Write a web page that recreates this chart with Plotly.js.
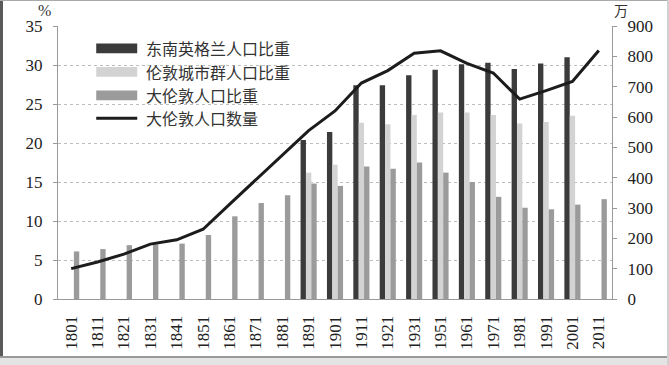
<!DOCTYPE html>
<html>
<head>
<meta charset="utf-8">
<script src="https://cdn.plot.ly/plotly-3.0.1.min.js"></script>
<style>
html,body{margin:0;padding:0;background:#fff;}
#wrap{position:relative;width:669px;height:365px;overflow:hidden;}
#chart{position:absolute;left:0;top:0;width:669px;height:365px;}
.b{position:absolute;pointer-events:none;}
</style>
</head>
<body>
<div id="wrap">
<div id="chart"></div>
<div class="b" style="left:0;top:0;width:3px;height:365px;background:#5a5a5a;"></div>
<div class="b" style="left:0;top:0;width:669px;height:1px;background:#aaa;"></div>
<div class="b" style="left:0;top:356px;width:669px;height:2px;background:#9a9a9a;"></div>
<div class="b" style="left:0;top:358px;width:669px;height:7px;background:#e4e4e4;"></div>
<div class="b" style="left:667px;top:0;width:2px;height:365px;background:#d0d0d0;"></div>
</div>
<script>
// Census years (category labels)
var years = ['1801','1811','1821','1831','1841','1851','1861','1871','1881','1891','1901','1911','1921','1931','1951','1961','1971','1981','1991','2001','2011'];
// 东南英格兰人口比重 (%)
var seShare = [null,null,null,null,null,null,null,null,null,20.4,21.4,27.4,27.4,28.7,29.4,30.1,30.3,29.5,30.2,31.0,null];
// 伦敦城市群人口比重 (%)
var cityRegionShare = [null,null,null,null,null,null,null,null,null,16.2,17.2,22.6,22.4,23.6,23.9,23.9,23.6,22.5,22.7,23.5,null];
// 大伦敦人口比重 (%)
var londonShare = [6.1,6.4,6.9,7.0,7.1,8.2,10.6,12.3,13.3,14.8,14.5,17.0,16.7,17.5,16.2,15.0,13.1,11.7,11.5,12.1,12.8];
// 大伦敦人口数量 (万)
var londonPop = [100,122,148,181,195,230,312,394,476,555,620,712,753,810,818,777,745,659,687,717,819];

var names = ['东南英格兰人口比重','伦敦城市群人口比重','大伦敦人口比重','大伦敦人口数量'];
var colors = ['#3b3b3b','#d3d3d3','#9b9b9b','#1c1c1c'];

var serif = 'Liberation Serif';
var cjk = 'Noto Sans CJK SC';

var traces = [
  {type:'bar', x:years, y:seShare, name:names[0], marker:{color:colors[0]}, yaxis:'y', showlegend:false},
  {type:'bar', x:years, y:cityRegionShare, name:names[1], marker:{color:colors[1]}, yaxis:'y', showlegend:false},
  {type:'bar', x:years, y:londonShare, name:names[2], marker:{color:colors[2]}, yaxis:'y', showlegend:false},
  {type:'scatter', mode:'lines', x:years, y:londonPop, name:names[3], line:{color:colors[3], width:3}, yaxis:'y2', showlegend:false}
];

// custom legend (wide swatches like the original)
var shapes = [];
var annotations = [];
var legRows = [0.918, 0.832, 0.746, 0.662];
var sx0 = 0.069, sx1 = 0.143;
for (var i = 0; i < 4; i++) {
  if (i < 3) {
    shapes.push({type:'rect', xref:'paper', yref:'paper', x0:sx0, x1:sx1, y0:legRows[i]-0.018, y1:legRows[i]+0.018,
      fillcolor:colors[i], line:{width:0}});
  } else {
    shapes.push({type:'line', xref:'paper', yref:'paper', x0:sx0, x1:sx1, y0:legRows[i], y1:legRows[i],
      line:{color:colors[i], width:3}});
  }
  annotations.push({xref:'paper', yref:'paper', x:0.155, y:legRows[i], xanchor:'left', yanchor:'middle',
    text:names[i], showarrow:false, font:{family:cjk, size:16, color:'#333'}});
}
annotations.push({xref:'paper', yref:'paper', x:-0.025, y:1.058, xanchor:'center', yanchor:'middle', text:'%',
  showarrow:false, font:{family:serif, size:16, color:'#333'}});
annotations.push({xref:'paper', yref:'paper', x:1.016, y:1.058, xanchor:'center', yanchor:'middle', text:'万',
  showarrow:false, font:{family:cjk, size:14, color:'#333'}});

var layout = {
  width:669, height:365,
  margin:{l:58, r:57, t:26, b:66},
  paper_bgcolor:'#fff', plot_bgcolor:'#fff',
  barmode:'group', bargap:0.39, bargroupgap:0,
  showlegend:false,
  font:{family:serif},
  xaxis:{type:'category', showline:true, linecolor:'#999', linewidth:1, ticks:'', tickangle:-90,
    tickfont:{family:serif, size:17, color:'#222'}, ticklabelstandoff:9, showgrid:false},
  yaxis:{range:[0,35], dtick:5, showline:true, linecolor:'#999', ticks:'outside', ticklen:4, tickcolor:'#999',
    gridcolor:'#bdbdbd', griddash:'dot', gridwidth:1, zeroline:false,
    tickfont:{family:serif, size:17, color:'#222'}, ticklabelstandoff:7},
  yaxis2:{range:[0,900], dtick:100, overlaying:'y', side:'right', showgrid:false, zeroline:false,
    showline:true, linecolor:'#999', ticks:'outside', ticklen:4, tickcolor:'#999',
    tickfont:{family:serif, size:17, color:'#222'}, ticklabelstandoff:7},
  shapes:shapes,
  annotations:annotations
};

Plotly.newPlot('chart', traces, layout, {displayModeBar:false, staticPlot:true});
</script>
</body>
</html>
